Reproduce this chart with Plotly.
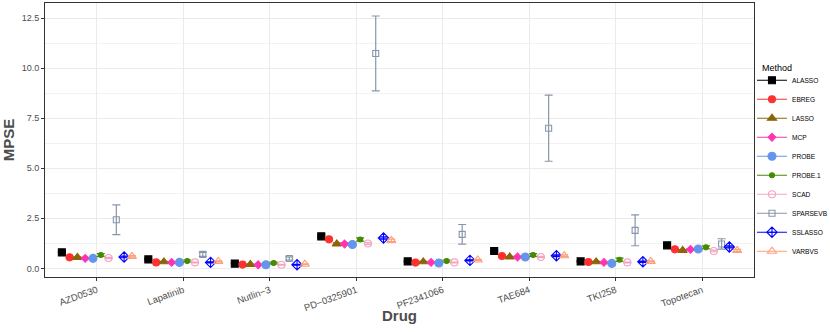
import plotly.graph_objects as go

drugs = ["AZD0530", "Lapatinib", "Nutlin\u22123", "PD\u22120325901", "PF2341066", "TAE684", "TKI258", "Topotecan"]
methods = ["ALASSO", "EBREG", "LASSO", "MCP", "PROBE", "PROBE.1", "SCAD", "SPARSEVB", "SSLASSO", "VARBVS"]

mpse = {
    "ALASSO":   [0.80, 0.45, 0.24, 1.60, 0.35, 0.87, 0.35, 1.15],
    "EBREG":    [0.55, 0.30, 0.19, 1.45, 0.29, 0.62, 0.32, 0.95],
    "LASSO":    [0.55, 0.33, 0.20, 1.22, 0.33, 0.57, 0.33, 0.90],
    "MCP":      [0.50, 0.30, 0.18, 1.22, 0.30, 0.57, 0.30, 0.95],
    "PROBE":    [0.50, 0.30, 0.18, 1.19, 0.27, 0.57, 0.25, 0.97],
    "PROBE.1":  [0.67, 0.37, 0.27, 1.44, 0.37, 0.67, 0.43, 1.05],
    "SCAD":     [0.52, 0.30, 0.18, 1.24, 0.30, 0.57, 0.30, 0.87],
    "SPARSEVB": [2.43, 0.70, 0.49, 10.73, 1.70, 7.00, 1.90, 1.22],
    "SSLASSO":  [0.57, 0.30, 0.18, 1.52, 0.40, 0.63, 0.33, 1.07],
    "VARBVS":   [0.60, 0.35, 0.21, 1.40, 0.42, 0.63, 0.35, 0.90],
}
se = {
    "ALASSO":   [0.04, 0.03, 0.02, 0.06, 0.03, 0.04, 0.03, 0.05],
    "EBREG":    [0.03, 0.02, 0.02, 0.05, 0.02, 0.03, 0.02, 0.04],
    "LASSO":    [0.03, 0.02, 0.02, 0.05, 0.02, 0.03, 0.02, 0.04],
    "MCP":      [0.03, 0.02, 0.02, 0.05, 0.02, 0.03, 0.02, 0.04],
    "PROBE":    [0.03, 0.02, 0.02, 0.05, 0.02, 0.03, 0.02, 0.04],
    "PROBE.1":  [0.07, 0.05, 0.04, 0.08, 0.05, 0.07, 0.08, 0.07],
    "SCAD":     [0.03, 0.02, 0.02, 0.05, 0.02, 0.03, 0.02, 0.04],
    "SPARSEVB": [0.74, 0.10, 0.08, 1.87, 0.49, 1.65, 0.77, 0.26],
    "SSLASSO":  [0.04, 0.03, 0.02, 0.06, 0.03, 0.04, 0.03, 0.05],
    "VARBVS":   [0.04, 0.03, 0.02, 0.06, 0.03, 0.04, 0.03, 0.05],
}

colors = {
    "ALASSO": "#000000", "EBREG": "#FF3030", "LASSO": "#8B6508", "MCP": "#FF34B3",
    "PROBE": "#6495ED", "PROBE.1": "#458B00", "SCAD": "#F4A3BE", "SPARSEVB": "#8796AA",
    "SSLASSO": "#0000FF", "VARBVS": "#FF9F7A",
}
symbols = {
    "ALASSO": ("square", 7), "EBREG": ("circle", 7), "LASSO": ("triangle-up", 8),
    "MCP": ("diamond", 6), "PROBE": ("circle", 8), "PROBE.1": ("circle", 5),
    "SCAD": ("circle-open", 7), "SPARSEVB": ("square-open", 6),
    "SSLASSO": ("diamond-cross-open", 8), "VARBVS": ("triangle-up-open", 8),
}

fig = go.Figure()
for m in methods:
    sym, sz = symbols[m]
    c = colors[m]
    fig.add_trace(go.Scatter(
        x=drugs, y=mpse[m], name=m, mode="markers", showlegend=False,
        legendgroup=m, offsetgroup=m,
        marker=dict(symbol=sym, size=sz, color=c, line=dict(color=c, width=1.1)),
        error_y=dict(type="data", array=se[m], visible=True, color=c, thickness=1.2, width=4),
    ))
    fig.add_trace(go.Scatter(
        x=[None], y=[None], name=m, mode="lines+markers", legendgroup=m, offsetgroup=m,
        marker=dict(symbol=sym, size=sz, color=c, line=dict(color=c, width=1.1)),
        line=dict(color=c, width=1.2),
    ))

fig.update_layout(
    width=830, height=332,
    margin=dict(l=45, r=76, t=3, b=55, autoexpand=False),
    plot_bgcolor="white", paper_bgcolor="white",
    scattermode="group", scattergap=0.1,
    font=dict(family="Liberation Sans, Arial, sans-serif", color="#4D4D4D"),
    legend=dict(
        font=dict(size=6.6, color="black"), bgcolor="rgba(0,0,0,0)",
        xref="container", x=0.906, xanchor="left",
        yref="container", y=0.802, yanchor="top",
        tracegroupgap=0, itemwidth=30, maxheight=300,
    ),
    showlegend=True,
    annotations=[
        dict(text="Method", xref="paper", yref="paper", x=1.008, y=0.763,
             xanchor="left", yanchor="middle", showarrow=False,
             font=dict(size=9, color="black")),
        dict(text="<b>Drug</b>", xref="paper", yref="paper", x=0.5, y=-0.139,
             xanchor="center", yanchor="middle", showarrow=False,
             font=dict(size=15, color="#4D4D4D")),
    ],
)
fig.update_xaxes(
    range=[-0.6, 7.6],
    tickangle=-20, tickfont=dict(size=9.5, color="#4D4D4D"), automargin=False,
    showgrid=True, gridcolor="#EBEBEB", gridwidth=1,
    showline=True, linecolor="#333333", linewidth=1, mirror=True,
    ticks="outside", ticklen=3, tickcolor="#333333",
)
fig.update_yaxes(
    title=dict(text="<b>MPSE</b>", font=dict(size=15, color="#4D4D4D"), standoff=4),
    range=[-0.43, 13.25], tickvals=[0, 2.5, 5, 7.5, 10, 12.5],
    ticktext=["0.0", "2.5", "5.0", "7.5", "10.0", "12.5"],
    tickfont=dict(size=9, color="#4D4D4D"), automargin=False,
    showgrid=True, gridcolor="#EBEBEB", gridwidth=1, zeroline=False,
    minor=dict(tickvals=[1.25, 3.75, 6.25, 8.75, 11.25], showgrid=True, gridcolor="#F2F2F2", gridwidth=0.6),
    showline=True, linecolor="#333333", linewidth=1, mirror=True,
    ticks="outside", ticklen=3, tickcolor="#333333",
)

fig.write_html("out.html", config={"displayModeBar": False},
               post_script="document.body.style.margin='0';document.body.style.padding='0';")
